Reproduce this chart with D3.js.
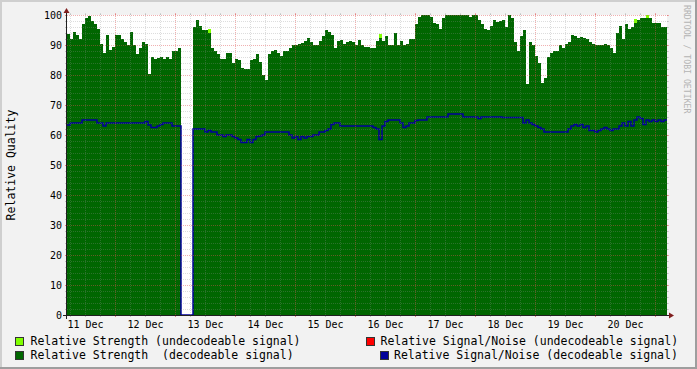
<!DOCTYPE html>
<html>
<head>
<meta charset="utf-8">
<script src="https://cdn.jsdelivr.net/npm/d3@7"></script>
<style>
  html, body { margin: 0; padding: 0; background: #f2f2f2; }
  svg { display: block; font-family: "DejaVu Sans Mono", monospace; }
  .axis .domain, .axis .tick line { display: none; }
  .legend text { white-space: pre; }
</style>
</head>
<body>
<svg id="chart" width="697" height="369"></svg>
<script>
// one sample every 72 minutes, starting 11 Dec 04:48 (200 samples = 10 days)
const startTime = new Date(2010, 11, 11, 4, 48);
const stepMinutes = 72;

// Relative Strength (decodeable signal); null = no data
const strength = [
  93.8, 92, 94.5, 93.5, 92, 97, 99, 99.8, 98, 97,
  95.5, 90.5, 87.5, 93.5, 88.3, 89.5, 93.5, 93.5, 92, 91,
  90, 94.5, 90, 87, 89, 91, 90.5, 80.5, 86, 85.5,
  85.7, 86, 85.5, 86, 85.5, 88, 88, 89, null, null,
  null, null, 96, 98.5, 96.5, 95, 95, 94, 89, 88,
  87, 85.5, 85.5, 87.2, 87.2, 84, 85.5, 85, 82.5, 82,
  82, 85, 85.5, 87, 84.5, 80, 78.5, 87, 88, 88.3,
  87.5, 86.5, 88, 88, 89, 90, 90, 90.5, 90.7, 91.5,
  92.5, 91, 90, 90, 91.3, 93, 95, 94.5, 93.5, 89,
  91.5, 91.7, 90.5, 91, 91.5, 91, 90, 91.7, 90, 89.5,
  89.5, 89, 89, 91.5, 92.5, 91.5, 93, 90, 90, 94,
  90, 91.5, 90, 90.2, 92, 92, 97, 99.5, 100, 100,
  100, 99.5, 97.5, 97, 95.5, 99, 100, 100, 100, 100,
  100, 100, 100, 100, 99.5, 100, 100, 98.5, 97, 95.5,
  95, 96.5, 98.5, 97.8, 98, 98.5, 96, 100, 99, 91,
  88, 93, 95, 77, 91, 90, 86.5, 84, 77.2, 79,
  86, 87.5, 88, 88, 90, 89, 90.5, 91, 93.5, 93,
  92.2, 92.8, 92.5, 92, 91, 90.5, 90, 90, 90, 90.5,
  90, 89, 87.5, 94, 96.5, 92, 97, 95.5, 96, 97.5,
  98.3, 99, 99, 99, 99, 97.2, 97.2, 97.2, 96, 96
];

// Relative Strength (undecodeable signal): [sample index, value], only where recorded
const undecStrength = [[47, 95.3], [104, 93.6], [189, 98.8], [193, 99.9]];

// Relative Signal/Noise (decodeable signal)
const snr = [
  63.3, 64, 64, 64, 64, 65, 65, 65, 65, 65,
  64, 64, 63, 64, 64, 64, 64, 64, 64, 64,
  64, 64, 64, 64, 64, 64, 64.5, 63.3, 62.5, 62.5,
  63, 63.5, 64, 64, 64, 63, 63, 63, 0, 0,
  0, 0, 62, 62, 62, 62, 61, 61.5, 61, 61,
  60, 60, 59.5, 60, 60, 59.5, 59, 58.5, 57.5, 57.5,
  58.5, 57.5, 58.5, 59.5, 59.7, 60, 61, 61, 61, 61,
  61, 61, 61, 61, 60, 59, 59.5, 58.5, 59.5, 59,
  59.5, 59.5, 60, 60, 61, 61, 61.5, 62, 63.5, 64,
  64, 63, 63, 63, 63, 63, 63, 63, 63, 63,
  63, 63, 62.5, 62, 58.5, 63, 64.5, 65, 65, 65,
  65, 64, 62.5, 63, 64, 64, 64.8, 65, 65, 65,
  66, 66, 66, 66, 66, 66, 66, 67, 67, 67,
  67, 67, 66, 66, 66, 66, 66, 65.5, 66, 66,
  66, 66, 66, 66, 66, 65.8, 65.8, 65.8, 65.8, 65.8,
  65.8, 65.8, 64, 65, 64, 63.5, 63, 62.5, 62, 61,
  61, 61, 61, 61, 61, 61, 61, 62, 63, 63.5,
  63, 63.5, 62.5, 63, 61.5, 61.5, 61, 61.5, 62, 62.5,
  62, 61.5, 62, 62, 63, 64, 63, 64.5, 63, 65,
  66, 65.5, 63.5, 65, 64.5, 65, 64.5, 65, 64.5, 65
];

// Relative Signal/Noise (undecodeable signal): nothing recorded in this window
const undecSnr = [];

const yTicks = [0, 10, 20, 30, 40, 50, 60, 70, 80, 90, 100];
const dayLabels = ["11 Dec", "12 Dec", "13 Dec", "14 Dec", "15 Dec",
                   "16 Dec", "17 Dec", "18 Dec", "19 Dec", "20 Dec"];
const legendLabels = [
  "Relative Strength (undecodeable signal)",
  "Relative Signal/Noise (undecodeable signal)",
  "Relative Strength  (decodeable signal)",
  "Relative Signal/Noise (decodeable signal)"
];

const W = 697, H = 369;
const plot = { left: 67, top: 15, width: 600, height: 300 };
const colors = {
  undecStrength: "#80ff00",
  strength: "#006600",
  undecSnr: "#ff0000",
  snr: "#000099",
  minorGrid: "rgba(143,143,143,0.3)",
  majorGrid: "rgba(222,79,79,0.45)",
  axis: "#1f1f1f",
  arrow: "#801f1f"
};

const timeAt = i => d3.timeMinute.offset(startTime, i * stepMinutes);

const x = d3.scaleTime()
  .domain([timeAt(0), timeAt(strength.length)])
  .range([plot.left, plot.left + plot.width]);
const y = d3.scaleLinear()
  .domain([0, 100])
  .range([plot.top + plot.height, plot.top]);

// turn [index, value] samples into step points (value held over its interval)
function stepPoints(samples) {
  const pts = [];
  let prev = null;
  samples.forEach(([i, v]) => {
    if (prev !== null && i !== prev + 1) pts.push({ t: timeAt(i), v: null });
    pts.push({ t: timeAt(i), v: v }, { t: timeAt(i + 1), v: v });
    prev = i;
  });
  return pts;
}
const indexed = arr => arr.map((v, i) => [i, v]);

const svg = d3.select("#chart");

// background + shaded frame
svg.append("rect").attr("width", W).attr("height", H).attr("fill", "#f2f2f2");
svg.append("path").attr("d", `M0,0H${W}V2H2V${H}H0Z`).attr("fill", "#cfcfcf");
svg.append("path").attr("d", `M${W},${H}H0V${H - 2}H${W - 2}V0H${W}Z`).attr("fill", "#9e9e9e");

// canvas
svg.append("rect")
  .attr("x", plot.left).attr("y", plot.top)
  .attr("width", plot.width).attr("height", plot.height)
  .attr("fill", "#ffffff");

const area = d3.area()
  .defined(d => d.v != null)
  .x(d => x(d.t))
  .y0(y(0))
  .y1(d => y(d.v));

const line = d3.line()
  .defined(d => d.v != null)
  .x(d => x(d.t))
  .y(d => y(d.v));

svg.append("path")
  .datum(stepPoints(undecStrength))
  .attr("d", area)
  .attr("fill", colors.undecStrength)
  .attr("shape-rendering", "crispEdges");

svg.append("path")
  .datum(stepPoints(indexed(strength)))
  .attr("d", area)
  .attr("fill", colors.strength)
  .attr("shape-rendering", "crispEdges");

svg.append("path")
  .datum(stepPoints(undecSnr))
  .attr("d", line)
  .attr("fill", "none")
  .attr("stroke", colors.undecSnr)
  .attr("stroke-width", 1.5);

svg.append("path")
  .datum(stepPoints(indexed(snr)))
  .attr("d", line)
  .attr("fill", "none")
  .attr("stroke", colors.snr)
  .attr("stroke-width", 1.5);

// grid, drawn over the data like rrdtool does
const grid = svg.append("g").attr("shape-rendering", "crispEdges");
const x0 = plot.left, x1 = plot.left + plot.width;
const y0 = plot.top + plot.height, y1 = plot.top;

function hGrid(v, color) {
  const py = Math.round(y(v)) + 0.5;
  grid.append("line").attr("x1", x0 - 2).attr("x2", x1 + 2).attr("y1", py).attr("y2", py)
    .attr("stroke", color).attr("stroke-dasharray", "1,1");
  grid.append("line").attr("x1", x0 - 2).attr("x2", x0).attr("y1", py).attr("y2", py).attr("stroke", color);
  grid.append("line").attr("x1", x1).attr("x2", x1 + 2).attr("y1", py).attr("y2", py).attr("stroke", color);
}
function vGrid(t, color) {
  const px = Math.round(x(t)) + 0.5;
  grid.append("line").attr("x1", px).attr("x2", px).attr("y1", y0 + 2).attr("y2", y1 - 2)
    .attr("stroke", color).attr("stroke-dasharray", "1,1");
  grid.append("line").attr("x1", px).attr("x2", px).attr("y1", y0).attr("y2", y0 + 2).attr("stroke", color);
  grid.append("line").attr("x1", px).attr("x2", px).attr("y1", y1 - 2).attr("y2", y1).attr("stroke", color);
}

d3.range(0, 101, 2).filter(v => v % 10 !== 0).forEach(v => hGrid(v, colors.minorGrid));
x.ticks(d3.timeHour.every(6)).filter(t => t.getHours() !== 0).forEach(t => vGrid(t, colors.minorGrid));
yTicks.forEach(v => hGrid(v, colors.majorGrid));
x.ticks(d3.timeDay.every(1)).forEach(t => vGrid(t, colors.majorGrid));

// axes lines + arrows
svg.append("line").attr("x1", x0 - 4).attr("x2", x1 + 4).attr("y1", y0 + 0.5).attr("y2", y0 + 0.5)
  .attr("stroke", colors.axis).attr("shape-rendering", "crispEdges");
svg.append("line").attr("x1", x0 - 0.5).attr("x2", x0 - 0.5).attr("y1", y0 + 4).attr("y2", y1 - 4)
  .attr("stroke", colors.axis).attr("shape-rendering", "crispEdges");
svg.append("path").attr("d", `M${x1 + 2},${y0 - 2.5}L${x1 + 2},${y0 + 3.5}L${x1 + 7},${y0 + 0.5}Z`)
  .attr("fill", colors.arrow);
svg.append("path").attr("d", `M${x0 - 3.5},${y1 - 2}L${x0 + 2.5},${y1 - 2}L${x0 - 0.5},${y1 - 7}Z`)
  .attr("fill", colors.arrow);

// tick labels
const noons = dayLabels.map((d, i) => d3.timeHour.offset(d3.timeDay.floor(startTime), 12 + 24 * i));
const xAxis = svg.append("g")
  .attr("class", "axis")
  .attr("transform", `translate(0,${y0})`)
  .call(d3.axisBottom(x).tickValues(noons).tickFormat((d, i) => dayLabels[i]).tickSize(0).tickPadding(6));
const yAxis = svg.append("g")
  .attr("class", "axis")
  .attr("transform", `translate(${x0},0)`)
  .call(d3.axisLeft(y).tickValues(yTicks).tickFormat(d3.format("d")).tickSize(0).tickPadding(5));
[xAxis, yAxis].forEach(a => a
  .attr("font-family", "DejaVu Sans Mono, monospace")
  .attr("font-size", 10)
  .selectAll("text").attr("fill", "#000"));

// vertical title
svg.append("text")
  .attr("transform", `translate(15,${(y0 + y1) / 2}) rotate(-90)`)
  .attr("text-anchor", "middle")
  .attr("font-size", 11.5)
  .attr("fill", "#000")
  .text("Relative Quality");

// watermark
svg.append("text")
  .attr("transform", "translate(684,5) rotate(90)")
  .attr("font-size", 8.2)
  .attr("fill", "#b4b4b4")
  .text("RRDTOOL / TOBI OETIKER");

// legend
const legendPos = [
  { bx: 15, tx: 30.5, y: 345 },
  { bx: 366, tx: 380.5, y: 345 },
  { bx: 15, tx: 30.5, y: 359 },
  { bx: 379.5, tx: 394, y: 359 }
];
const legendColors = [colors.undecStrength, colors.undecSnr, colors.strength, colors.snr];
const legend = svg.append("g").attr("class", "legend");
legendLabels.forEach((label, i) => {
  const p = legendPos[i];
  legend.append("rect")
    .attr("x", p.bx + 0.5).attr("y", p.y - 7.5)
    .attr("width", 8).attr("height", 8)
    .attr("fill", legendColors[i])
    .attr("stroke", "#333")
    .attr("shape-rendering", "crispEdges");
  legend.append("text")
    .attr("x", p.tx).attr("y", p.y)
    .attr("font-size", 11.5)
    .attr("fill", "#000")
    .text(label);
});
</script>
</body>
</html>
